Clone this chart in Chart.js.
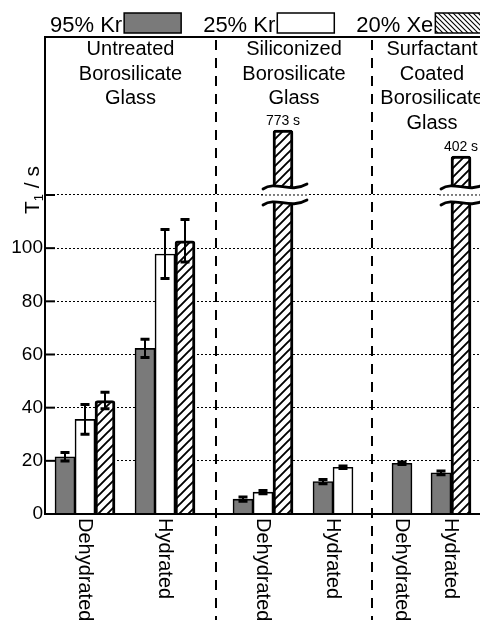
<!DOCTYPE html>
<html>
<head>
<meta charset="utf-8">
<script src="https://cdn.jsdelivr.net/npm/chart.js@4.4.1/dist/chart.umd.min.js"></script>
<style>
  html, body { margin: 0; padding: 0; background: #fff; overflow: hidden; }
  #wrap { position: absolute; left: 0; top: 0; width: 560px; height: 700px; }
</style>
</head>
<body>
<div id="wrap"><canvas id="chart" width="560" height="700"></canvas></div>
<script>
// ---- data -------------------------------------------------------------
const conditions = ['Dehydrated', 'Hydrated', 'Dehydrated', 'Hydrated', 'Dehydrated', 'Hydrated'];
// slot of each condition along the horizontal axis (axis units, one bar = 1 unit)
const conditionSlots = [2.0, 6.0, 10.9, 14.4, 17.85, 20.3];
const surfaceGroups = [
  ['Untreated', 'Borosilicate', 'Glass'],
  ['Siliconized', 'Borosilicate', 'Glass'],
  ['Surfactant', 'Coated', 'Borosilicate', 'Glass']
];
const groupEdges = [0, 8.55, 16.35, 22.35];

const seriesNames = ['95% Kr', '25% Kr', '20% Xe'];
const kr95 = [21.5, 62.3, 5.6, 12.2, 19.1, 15.5];
const kr95Err = [1.6, 3.4, 0.8, 0.8, 0.5, 0.7];
const kr25 = [35.6, 97.8, 8.2, 17.6, null, null];
const kr25Err = [5.6, 9.2, 0.6, 0.5, null, null];
const xe20 = [42.7, 102.8, 773, null, null, 402];
const xe20Err = [3.1, 8.0, null, null, null, null];

const yTickValues = [0, 20, 40, 60, 80, 100, 120];
const yTickLabels = ['0', '20', '40', '60', '80', '100', ''];
const yTitle = { main: 'T', sub: '1', rest: ' / s' };

// ---- styles -------------------------------------------------------------
const FONT = '"Liberation Sans", Arial, Helvetica, sans-serif';
const canvas = document.getElementById('chart');
const mainCtx = canvas.getContext('2d');

function stripes(size, dir, lw) {
  const c = document.createElement('canvas');
  c.width = c.height = size;
  const g = c.getContext('2d');
  g.fillStyle = '#fff';
  g.fillRect(0, 0, size, size);
  g.strokeStyle = '#000';
  g.lineWidth = lw;
  g.beginPath();
  if (dir === '/') {
    g.moveTo(-1, size + 1); g.lineTo(size + 1, -1);
    g.moveTo(-1, 1); g.lineTo(1, -1);
    g.moveTo(size - 1, size + 1); g.lineTo(size + 1, size - 1);
  } else {
    g.moveTo(-1, -1); g.lineTo(size + 1, size + 1);
    g.moveTo(size - 1, -1); g.lineTo(size + 1, 1);
    g.moveTo(-1, size - 1); g.lineTo(1, size + 1);
  }
  g.stroke();
  return mainCtx.createPattern(c, 'repeat');
}
const barHatch = stripes(9, '/', 1.9);
const keyHatch = stripes(5, '\\', 1.1);

// ---- broken value axis: linear up to the break, compressed above it -----
class BrokenScale extends Chart.LinearScale {
  _frac(v) {
    const o = this.options;
    if (v <= o.breakAt) return (v / o.breakAt) * o.lowerShare;
    const r = Math.max(v, o.resumeAt) / o.resumeAt;
    return o.lowerShare + o.decadeShare * Math.log10(r);
  }
  getPixelForValue(value) {
    if (value === null || value === undefined || isNaN(value)) return NaN;
    return this.getPixelForDecimal(this._frac(value));
  }
  getValueForPixel(pixel) {
    const o = this.options;
    const f = this.getDecimalForPixel(pixel);
    if (f <= o.lowerShare) return (f / o.lowerShare) * o.breakAt;
    return o.resumeAt * Math.pow(10, (f - o.lowerShare) / o.decadeShare);
  }
}
BrokenScale.id = 'broken';
BrokenScale.defaults = Chart.LinearScale.defaults;
Chart.register(BrokenScale);

const points = (vals) => conditionSlots.map((x, i) => ({ x, y: vals[i] }));

// ---- plugins ------------------------------------------------------------
const errorBars = {
  id: 'errorBars',
  afterDatasetsDraw(chart) {
    const { ctx } = chart;
    const y = chart.scales.y;
    chart.data.datasets.forEach((ds, di) => {
      if (!ds.errors) return;
      const meta = chart.getDatasetMeta(di);
      ds.errors.forEach((e, i) => {
        const v = ds.data[i].y;
        if (e === null || v === null) return;
        const bar = meta.data[i];
        const yt = y.getPixelForValue(v + e), yb = y.getPixelForValue(v - e);
        ctx.save();
        ctx.strokeStyle = '#000';
        ctx.lineWidth = 2;
        ctx.beginPath(); ctx.moveTo(bar.x, yt); ctx.lineTo(bar.x, yb); ctx.stroke();
        ctx.lineWidth = 3;
        ctx.beginPath();
        ctx.moveTo(bar.x - 4.5, yt); ctx.lineTo(bar.x + 4.5, yt);
        ctx.moveTo(bar.x - 4.5, yb); ctx.lineTo(bar.x + 4.5, yb);
        ctx.stroke();
        ctx.restore();
      });
    });
  }
};

function wavePath(ctx, x0, x1, y, reverse) {
  const w = x1 - x0;
  if (!reverse) {
    ctx.moveTo(x0, y + 2);
    ctx.bezierCurveTo(x0 + w * 0.3, y - 7, x0 + w * 0.6, y + 7, x1, y - 3);
  } else {
    ctx.lineTo(x1, y - 3);
    ctx.bezierCurveTo(x0 + w * 0.6, y + 7, x0 + w * 0.3, y - 7, x0, y + 2);
  }
}

const axisBreak = {
  id: 'axisBreak',
  afterDatasetsDraw(chart) {
    const { ctx } = chart;
    const y = chart.scales.y;
    const limit = y.options.breakAt;
    const yb = y.getPixelForValue(limit);
    chart.data.datasets.forEach((ds, di) => {
      const meta = chart.getDatasetMeta(di);
      ds.data.forEach((p, i) => {
        if (p.y === null || p.y <= limit) return;
        const bar = meta.data[i];
        const x0 = bar.x - 20, x1 = bar.x + 24;
        const top = yb - 8, bot = yb + 8;
        ctx.save();
        ctx.beginPath();
        wavePath(ctx, x0, x1, top, false);
        wavePath(ctx, x0, x1, bot, true);
        ctx.closePath();
        ctx.fillStyle = '#fff';
        ctx.fill();
        ctx.strokeStyle = '#000';
        ctx.lineWidth = 1;
        ctx.setLineDash([2, 2]);
        ctx.beginPath(); ctx.moveTo(x0 - 2, yb); ctx.lineTo(x1 + 2, yb); ctx.stroke();
        ctx.setLineDash([]);
        ctx.lineWidth = 2.8;
        ctx.lineCap = 'round';
        ctx.beginPath(); wavePath(ctx, x0, x1, top, false); ctx.stroke();
        ctx.beginPath(); wavePath(ctx, x0, x1, bot, false); ctx.stroke();
        // value of the truncated bar
        ctx.fillStyle = '#000';
        ctx.font = '14px ' + FONT;
        ctx.textAlign = 'center';
        ctx.textBaseline = 'alphabetic';
        ctx.fillText(p.y + ' s', bar.x, bar.y - 5);
        ctx.restore();
      });
    });
  }
};

const decor = {
  id: 'decor',
  afterDraw(chart) {
    const { ctx, chartArea: a } = chart;
    const x = chart.scales.x, y = chart.scales.y;
    ctx.save();
    ctx.strokeStyle = '#000';
    ctx.fillStyle = '#000';

    // frame
    ctx.lineWidth = 2;
    ctx.strokeRect(a.left, a.top, a.right - a.left, a.bottom - a.top);

    // inward tick marks
    yTickValues.forEach((v) => {
      if (v === 0) return;
      const py = y.getPixelForValue(v);
      ctx.beginPath(); ctx.moveTo(a.left, py); ctx.lineTo(a.left + 10, py); ctx.stroke();
    });

    // dashed separators between surface groups
    ctx.setLineDash([10, 8]);
    groupEdges.slice(1, -1).forEach((g) => {
      const px = x.getPixelForValue(g);
      ctx.beginPath(); ctx.moveTo(px, a.top + 3); ctx.lineTo(px, chart.height); ctx.stroke();
    });
    ctx.setLineDash([]);

    // surface group titles
    ctx.font = '20px ' + FONT;
    ctx.textAlign = 'center';
    ctx.textBaseline = 'middle';
    surfaceGroups.forEach((lines, gi) => {
      const cx = (x.getPixelForValue(groupEdges[gi]) + x.getPixelForValue(groupEdges[gi + 1])) / 2;
      lines.forEach((t, li) => ctx.fillText(t, cx, a.top + 12.5 + li * 24.5));
    });

    // condition labels, rotated to read downward
    ctx.font = '20px ' + FONT;
    conditions.forEach((c, i) => {
      const px = x.getPixelForValue(conditionSlots[i]);
      ctx.save();
      ctx.translate(px, a.bottom + 4);
      ctx.rotate(Math.PI / 2);
      ctx.textAlign = 'left';
      ctx.textBaseline = 'middle';
      ctx.fillText(c, 0, 0);
      ctx.restore();
    });

    // value axis title with subscript
    ctx.save();
    ctx.translate(39, 190);
    ctx.rotate(-Math.PI / 2);
    ctx.textAlign = 'left';
    ctx.textBaseline = 'alphabetic';
    const big = '21px ' + FONT, small = '13px ' + FONT;
    ctx.font = big; const w1 = ctx.measureText(yTitle.main).width;
    const w3 = ctx.measureText(yTitle.rest).width;
    ctx.font = small; const w2 = ctx.measureText(yTitle.sub).width;
    let sx = -(w1 + w2 + w3) / 2;
    ctx.font = big; ctx.fillText(yTitle.main, sx, 0); sx += w1;
    ctx.font = small; ctx.fillText(yTitle.sub, sx, 4); sx += w2;
    ctx.font = big; ctx.fillText(yTitle.rest, sx, 0);
    ctx.restore();

    // legend: label followed by its swatch
    ctx.font = '22px ' + FONT;
    ctx.textAlign = 'left';
    ctx.textBaseline = 'alphabetic';
    let lx = 50;
    chart.data.datasets.forEach((ds) => {
      ctx.fillStyle = '#000';
      ctx.fillText(ds.label, lx, 31.5);
      lx += ctx.measureText(ds.label).width + 2;
      ctx.fillStyle = ds.swatch;
      ctx.fillRect(lx, 13, 57, 20);
      ctx.lineWidth = 1.5;
      ctx.strokeRect(lx, 13, 57, 20);
      lx += 57 + 22;
    });
    ctx.restore();
  }
};

// ---- chart --------------------------------------------------------------
new Chart(canvas, {
  type: 'bar',
  data: {
    datasets: [
      { label: seriesNames[0], data: points(kr95), errors: kr95Err,
        backgroundColor: '#7a7a7a', swatch: '#7a7a7a', borderColor: '#000', borderWidth: 1.6 },
      { label: seriesNames[1], data: points(kr25), errors: kr25Err,
        backgroundColor: '#ffffff', swatch: '#ffffff', borderColor: '#000', borderWidth: 1.6 },
      { label: seriesNames[2], data: points(xe20), errors: xe20Err,
        backgroundColor: barHatch, swatch: keyHatch, borderColor: '#000', borderWidth: 3, borderRadius: 3 }
    ]
  },
  options: {
    responsive: false,
    devicePixelRatio: 1,
    animation: false,
    skipNull: true,
    barThickness: 20,
    layout: { padding: { top: 37, right: 68, bottom: 0, left: 0 } },
    plugins: { legend: { display: false }, tooltip: { enabled: false } },
    scales: {
      x: {
        type: 'linear',
        min: groupEdges[0],
        max: groupEdges[groupEdges.length - 1],
        offset: false,
        ticks: { display: false },
        grid: { display: false },
        border: { display: false },
        afterFit: (s) => { s.height = 186; }
      },
      y: {
        type: 'broken',
        min: 0,
        max: 7500,
        breakAt: 120,
        resumeAt: 150,
        lowerShare: 0.6688,
        decadeShare: 0.1908,
        afterBuildTicks: (s) => { s.ticks = yTickValues.map((value) => ({ value })); },
        ticks: {
          callback: (v, i) => yTickLabels[i],
          color: '#000',
          font: { family: FONT, size: 19 },
          padding: 2
        },
        grid: { color: '#000', lineWidth: 1, drawTicks: false },
        border: { display: false, dash: [2, 2] },
        afterFit: (s) => { s.width = 45; }
      }
    }
  },
  plugins: [errorBars, axisBreak, decor]
});
</script>
</body>
</html>
